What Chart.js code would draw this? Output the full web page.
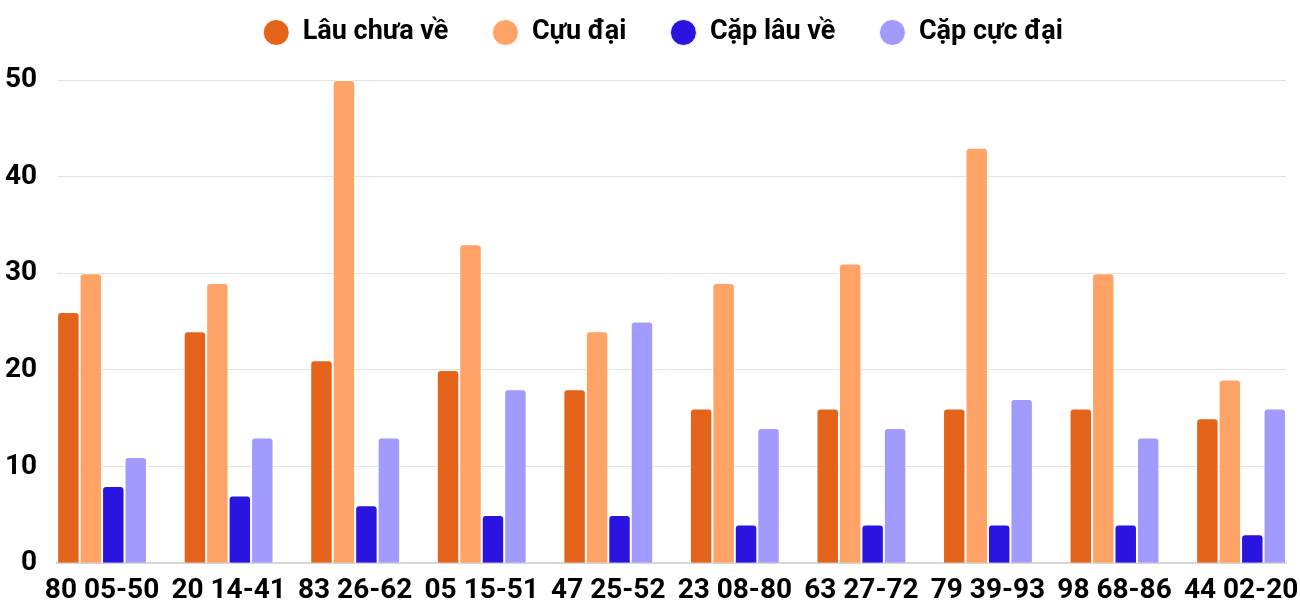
<!DOCTYPE html>
<html>
<head>
<meta charset="utf-8">
<script src="https://cdn.jsdelivr.net/npm/chart.js@4"></script>
<style>
html,body{margin:0;padding:0;background:#fff;overflow:hidden}
#wrap{width:1300px;height:600px}
</style>
</head>
<body>
<div id="wrap"><canvas id="c" width="1300" height="600"></canvas></div>
<script>
const categories = ["80 05-50","20 14-41","83 26-62","05 15-51","47 25-52","23 08-80","63 27-72","79 39-93","98 68-86","44 02-20"];
const seriesNames = ["Lâu chưa về","Cựu đại","Cặp lâu về","Cặp cực đại"];
const lauChuaVe = [26,24,21,20,18,16,16,16,16,15];
const cuuDai    = [30,29,50,33,24,29,31,43,30,19];
const capLauVe  = [8,7,6,5,5,4,4,4,4,3];
const capCucDai = [11,13,13,18,25,14,14,17,13,16];
const yTicks = [0,10,20,30,40,50];
const colors = ["#E3641A","#FFA366","#2A14E0","#A29BFE"];

const allSeries = [lauChuaVe, cuuDai, capLauVe, capCucDai];

const legendTweak = {
  id: 'legendTweak',
  afterInit(chart) {
    const lg = chart.legend;
    if (!lg) return;
    const origFit = lg.fit.bind(lg);
    lg.fit = function(){ origFit(); this.height = 80; };
    const origDraw = lg.draw.bind(lg);
    lg.draw = function(){
      const ctx = this.ctx;
      ctx.save();
      ctx.translate(18 - (this.left - 4) / 2, -(this.options.labels.padding - 19));
      origDraw();
      ctx.restore();
    };
  }
};

function build() {
  Chart.defaults.font.family = 'Roboto';
  Chart.defaults.color = '#000';
  new Chart(document.getElementById('c'), {
    type: 'bar',
    data: {
      datasets: allSeries.map((vals, k) => ({
        label: seriesNames[k],
        data: vals.map((v, i) => ({x: i, y: v})),
        backgroundColor: colors[k],
        borderColor: '#ffffff',
        borderWidth: 1,
        borderRadius: 4,
        borderSkipped: 'start',
        categoryPercentage: 0.71,
        barPercentage: 1
      }))
    },
    options: {
      responsive: false,
      animation: false,
      devicePixelRatio: 1,
      layout: { padding: { left: -15, right: 14, top: 0, bottom: 0 } },
      plugins: {
        tooltip: { enabled: false },
        legend: {
          position: 'top',
          labels: {
            usePointStyle: true,
            pointStyle: 'circle',
            boxWidth: 26,
            boxHeight: 18.4,
            padding: 44,
            color: '#000',
            font: { family: 'Roboto', size: 27, weight: 'bold' }
          }
        }
      },
      scales: {
        x: {
          type: 'linear',
          offset: false,
          min: -0.355,
          max: 9.355,
          grid: { display: false, offset: false, drawTicks: false },
          border: { display: true, color: '#d6d6d6', width: 2 },
          afterBuildTicks(scale) {
            scale.ticks = categories.map((_, i) => ({ value: i }));
          },
          afterFit(scale) {
            scale.paddingLeft = 0;
            scale.paddingRight = 0;
            scale.height = 35;
          },
          ticks: {
            autoSkip: false,
            maxRotation: 0,
            minRotation: 0,
            padding: 11,
            color: '#000',
            font: { family: 'Roboto', size: 28, weight: 'bold' },
            callback: (v) => categories[v]
          }
        },
        y: {
          min: 0,
          max: 50,
          afterBuildTicks(scale) {
            scale.ticks = yTicks.map(v => ({ value: v }));
          },
          grid: { color: '#e2e2e2', drawTicks: false, lineWidth: 1 },
          border: { display: false },
          ticks: {
            padding: 20,
            color: '#000',
            font: { family: 'Roboto', size: 28, weight: 'bold' }
          }
        }
      }
    },
    plugins: [legendTweak]
  });
}

if (document.fonts && document.fonts.load) {
  Promise.all([
    document.fonts.load('bold 28px Roboto'),
    document.fonts.load('bold 27px Roboto')
  ]).then(build, build);
} else { build(); }
</script>
</body>
</html>
